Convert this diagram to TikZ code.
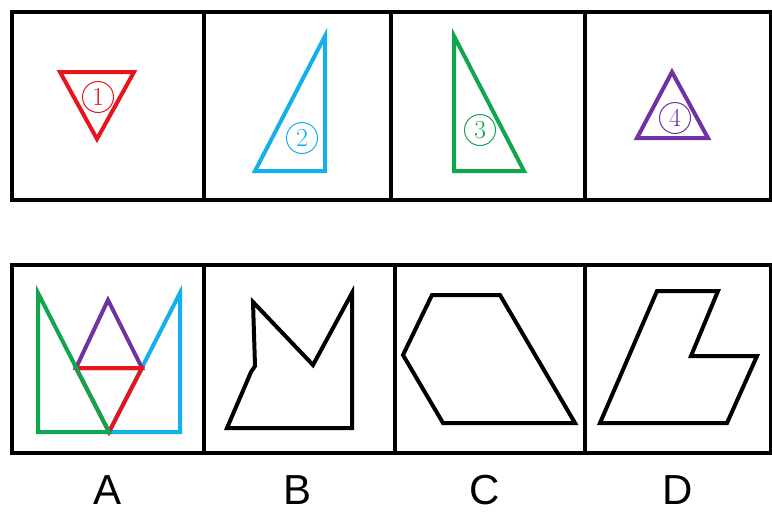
\documentclass[tikz,border=0pt]{standalone}
\usepackage{fontspec}
\usepackage{xcolor}
\usepackage{tikz}
\usetikzlibrary{positioning}
\newfontfamily\optfont{Liberation Sans}
\definecolor{figred}{RGB}{232, 20, 28}
\definecolor{figblue}{RGB}{20, 176, 236}
\definecolor{figgreen}{RGB}{16, 166, 80}
\definecolor{figpurple}{RGB}{112, 50, 160}

\begin{document}
\begin{tikzpicture}[
    x=1pt, y=-1pt,
    frame/.style={draw=black, line width=3.6pt},
    piece/.style={line width=4pt, line join=miter},
    shapeline/.style={draw=black, line width=4pt, line join=miter},
    num/.style={circle, draw, line width=1pt, minimum size=31pt,
                inner sep=0pt, font=\fontsize{26}{26}\selectfont},
    opt/.style={font=\optfont\fontsize{42}{42}\selectfont}
  ]
  \useasboundingbox (0,0) rectangle (772,515);

  % Top row: the four pieces
  \draw[frame] (12,12) rectangle (771,200);
  \draw[frame] (204,12) -- (204,200);
  \draw[frame] (391,12) -- (391,200);
  \draw[frame] (585,12) -- (585,200);

  \draw[piece, figred] (60,72) -- (134,72) -- (97,139) -- cycle;
  \node[num, figred] (n1) at (98,97) {1};

  \draw[piece, figblue] (325,36) -- (325,171) -- (255,171) -- cycle;
  \node[num, figblue] (n2) at (302,138) {2};

  \draw[piece, figgreen] (454,36) -- (454,171) -- (524,171) -- cycle;
  \node[num, figgreen] (n3) at (480,130) {3};

  \draw[piece, figpurple] (672,72) -- (708,138) -- (637,138) -- cycle;
  \node[num, figpurple] (n4) at (675,118) {4};

  % Bottom row: the four options
  \draw[frame] (12,265) rectangle (771,453);
  \draw[frame] (204,265) -- (204,453);
  \draw[frame] (395,265) -- (395,453);
  \draw[frame] (585,265) -- (585,453);

  % Option A
  \draw[piece, figblue] (180,293) -- (180,432) -- (109,432) -- cycle;
  \draw[piece, figpurple] (108,300) -- (142,368) -- (76,368) -- cycle;
  \draw[piece, figred] (76,368) -- (142,368) -- (109,432) -- cycle;
  \draw[piece, figgreen] (38,293) -- (38,432) -- (109,432) -- cycle;

  % Option B
  \draw[shapeline] (253,302) -- (313,365) -- (352,293) -- (352,428)
    -- (227,428) -- (251,372) -- (255,366) -- cycle;

  % Option C
  \draw[shapeline] (432,295) -- (500,295) -- (575,423) -- (443,423)
    -- (403,355) -- cycle;

  % Option D
  \draw[shapeline] (657,291) -- (718,291) -- (691,356) -- (757,356)
    -- (727,423) -- (600,423) -- cycle;

  % Option letters
  \node[opt] (la) at (108,490) {A};
  \node[opt] (lb) at (298,490) {B};
  \node[opt] (lc) at (485,490) {C};
  \node[opt] (ld) at (678,490) {D};

\end{tikzpicture}
\end{document}
